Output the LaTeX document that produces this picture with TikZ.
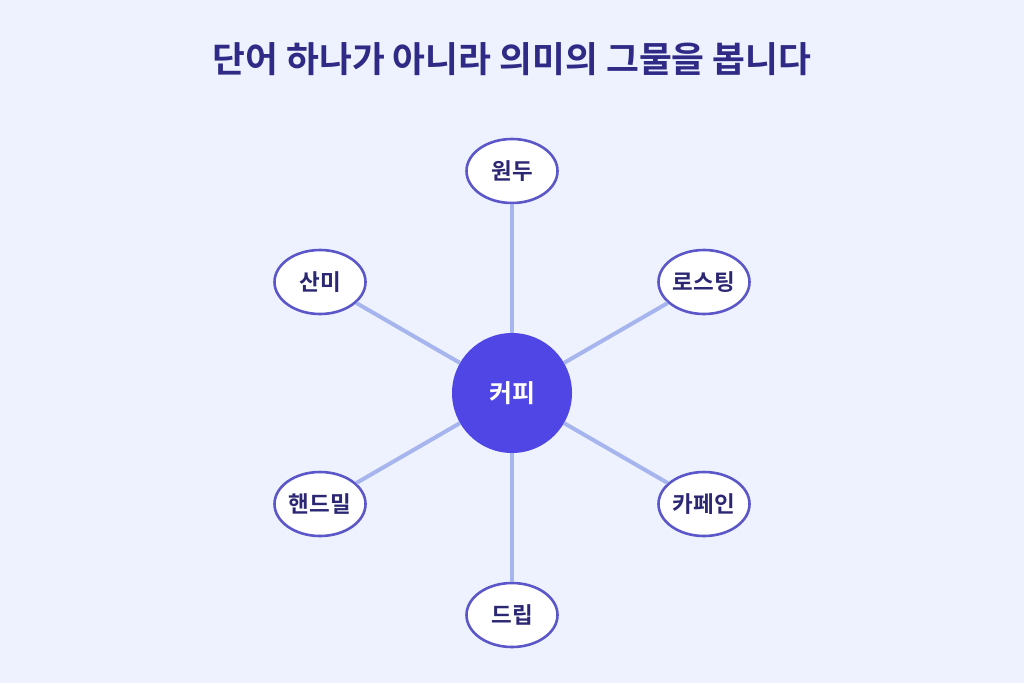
\documentclass[tikz,border=0pt]{standalone}
\usepackage{fontspec}
\setmainfont{Noto Sans CJK KR}
\newfontfamily\krbold{Noto Sans CJK KR Bold}
\usetikzlibrary{shapes.geometric}
\definecolor{bgc}{HTML}{EEF2FE}
\definecolor{titlec}{HTML}{2F2A85}
\definecolor{edgec}{HTML}{A7B5EE}
\definecolor{ellc}{HTML}{5B57C9}
\definecolor{hubc}{HTML}{4F46E5}
\definecolor{txtc}{HTML}{2B2773}
\tikzset{
  leaf/.style={ellipse, draw=ellc, line width=2.6pt, fill=white, minimum width=91pt, minimum height=64pt, inner sep=0pt, text=txtc, font=\krbold\fontsize{22.5}{26}\selectfont},
  hub/.style={circle, fill=hubc, minimum size=120pt, inner sep=0pt, text=white, font=\krbold\fontsize{25}{28}\selectfont},
  link/.style={draw=edgec, line width=4pt}
}
\begin{document}
\begin{tikzpicture}[x=1pt,y=-1pt]
\fill[bgc] (0,0) rectangle (1024,683);
\useasboundingbox (0,0) rectangle (1024,683);
\node[text=titlec, font=\krbold\fontsize{35.7}{40}\selectfont] (title) at (512,59) {단어 하나가 아니라 의미의 그물을 봅니다};
\node[hub] (coffee) at (512,393) {커피};
\node[leaf] (wondu) at (512,171) {원두};
\node[leaf] (roasting) at (704,282) {로스팅};
\node[leaf] (caffeine) at (704,504) {카페인};
\node[leaf] (drip) at (512,615) {드립};
\node[leaf] (handmill) at (320,504) {핸드밀};
\node[leaf] (sanmi) at (320,282) {산미};
\foreach \n in {wondu,roasting,caffeine,drip,handmill,sanmi}{
  \draw[link] (coffee) -- (\n);
}
\end{tikzpicture}
\end{document}
